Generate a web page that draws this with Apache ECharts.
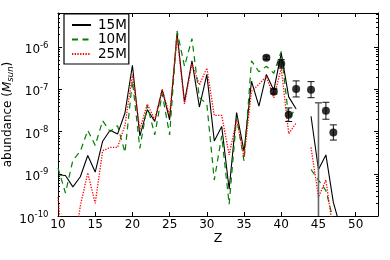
<!DOCTYPE html>
<html><head><meta charset="utf-8">
<script src="https://cdn.jsdelivr.net/npm/echarts@6/dist/echarts.min.js"></script>
<style>html,body{margin:0;padding:0;background:#fff}#c{width:390px;height:260px}</style>
</head><body><div id="c"></div>
<script>
// ---- data ----
const Z = [10,11,12,13,14,15,16,17,18,19,20,21,22,23,24,25,26,27,28,29,30,31,32,33,34,35,36,37,38,39,40,41,42,43,44,45,46,47,48];
const m15 = [9.5e-10,9.1e-10,4.9e-10,8.5e-10,2.7e-9,1.1e-9,5.9e-9,1.07e-8,8.7e-9,2.75e-8,3.7e-7,7.9e-9,3.3e-8,1.74e-8,9.8e-8,1.9e-8,2.14e-6,5.0e-8,4.7e-7,3.8e-8,2.24e-7,6.0e-9,1.32e-8,4.3e-10,2.8e-8,3.4e-9,1.55e-7,4.0e-8,2.24e-7,9.5e-8,7.2e-7,6.6e-8,3.4e-8,null,2.3e-8,1.26e-9,2.8e-9,2.1e-10,5e-11];
const m10 = [1.38e-9,3.5e-10,2.1e-9,3.4e-9,1.07e-8,4.7e-9,1.8e-8,1.0e-8,1.38e-8,3.2e-9,1.6e-7,4.0e-9,4.2e-8,8.3e-9,7.9e-8,8.3e-9,2.4e-6,3.5e-7,1.58e-6,6.3e-8,4.5e-8,7.1e-10,7.9e-9,1.9e-10,2.2e-8,2.0e-9,4.7e-7,2.6e-7,3.5e-7,2.4e-7,7.9e-7,2.1e-8,3.5e-8,null,1.26e-9,7.1e-10,4.0e-10,8e-11,null];
const m25 = [2.8e-10,3e-12,1e-11,1.74e-10,1.05e-9,2.0e-10,3.5e-9,4.2e-9,4.2e-9,1.4e-8,2.24e-7,1.12e-8,4.5e-8,1.9e-8,1.0e-7,2.4e-8,1.78e-6,4.5e-8,4.0e-7,1.26e-7,3.2e-7,2.4e-8,2.4e-8,2.8e-9,1.9e-8,2.5e-9,8.9e-8,1.32e-7,2.0e-7,6.3e-8,3.2e-7,8.9e-9,1.58e-8,null,4.2e-9,2.8e-10,7.1e-10,4e-11,null];
const obsZ = [38,39,40,41,42,44,46,47];
const obsVal = [5.6e-7,8.9e-8,4.0e-7,2.5e-8,1.02e-7,9.8e-8,3.1e-8,9.5e-9];
const obsErrDex = [0.04,0.06,0.1,0.16,0.19,0.19,0.2,0.18];
const limZ = [45];
const limTop = [4.8e-8];
const limBottom = [1e-11];
const xTickLabels = [10,15,20,25,30,35,40,45,50];
const yTickExp = [-10,-9,-8,-7,-6];

// ---- layout / style ----
const FONT = 'DejaVu Sans';
const xMin = 10, xMax = 53, yMin = 1e-10, yMax = 6.4e-6;

const pairs = arr => Z.map((z, i) => [z, arr[i] == null ? '-' : arr[i]]);
const obsData = obsZ.map((z, i) => [z, obsVal[i]]);
const errData = obsZ.map((z, i) => [z, obsVal[i] / Math.pow(10, obsErrDex[i]), obsVal[i] * Math.pow(10, obsErrDex[i])]);
const limData = limZ.map((z, i) => [z, limBottom[i], limTop[i]]);

// axis decoration: log minor ticks (2..9 x 10^n)
const minorTicks = [];
for (const e of yTickExp) for (let k = 2; k <= 9; k++) { const v = k * Math.pow(10, e); if (v < yMax) minorTicks.push([xMin, v]); }

function errRender(color, width) {
  return function (params, api) {
    const p1 = api.coord([api.value(0), api.value(1)]);
    const p2 = api.coord([api.value(0), api.value(2)]);
    const hw = 3.5, st = { stroke: color, lineWidth: width };
    return { type: 'group', children: [
      { type: 'line', shape: { x1: p1[0], y1: p1[1], x2: p2[0], y2: p2[1] }, style: st },
      { type: 'line', shape: { x1: p2[0] - hw, y1: p2[1], x2: p2[0] + hw, y2: p2[1] }, style: st },
      { type: 'line', shape: { x1: p1[0] - hw, y1: p1[1], x2: p1[0] + hw, y2: p1[1] }, style: st }
    ]};
  };
}

const yFmt = v => {
  const e = Math.log10(v), r = Math.round(e);
  if (Math.abs(e - r) > 1e-6 || yTickExp.indexOf(r) < 0) return '';
  return r === -10 ? '{b2|10}{s2|' + r + '}' : '{b|10}{s|' + r + '}';
};

const axisBase = {
  axisLine: { show: true, onZero: false, lineStyle: { color: '#000', width: 1 } },
  axisTick: { show: true, inside: true, length: 4, lineStyle: { color: '#000', width: 1 } },
  splitLine: { show: false }
};

const chart = echarts.init(document.getElementById('c'));
chart.setOption({
  animation: false,
  backgroundColor: '#fff',
  grid: { left: 58, right: 12, top: 13, bottom: 44, outerBoundsMode: 'none' },
  legend: {
    data: ['15M', '10M', '25M'], orient: 'vertical', left: 64, top: 14,
    padding: [4, 2, 3, 7], itemWidth: 19, itemHeight: 14, itemGap: 0.5,
    backgroundColor: '#fff', borderColor: '#000', borderWidth: 1.2, borderRadius: 0,
    itemStyle: { opacity: 0 },
    textStyle: { fontFamily: FONT, fontSize: 13.5, color: '#000', lineHeight: 14, padding: [0, 0, 0, 2] }
  },
  xAxis: [
    Object.assign({}, axisBase, {
      type: 'value', min: xMin, max: xMax, interval: 5, position: 'bottom',
      axisLabel: { show: true, margin: 3, color: '#000', fontFamily: FONT, fontSize: 12,
        formatter: v => xTickLabels.indexOf(v) >= 0 ? String(v) : '' },
      name: 'Z', nameLocation: 'middle', nameGap: 16, nameMoveOverlap: false,
      nameTextStyle: { fontFamily: FONT, fontSize: 12.5, color: '#000' }
    }),
    Object.assign({}, axisBase, {
      type: 'value', min: xMin, max: xMax, interval: 5, position: 'top',
      axisLabel: { show: false }
    })
  ],
  yAxis: [
    Object.assign({}, axisBase, {
      type: 'log', logBase: 10, min: yMin, max: yMax, position: 'left',
      axisLabel: { show: true, margin: 9.5, color: '#000', fontFamily: FONT, formatter: yFmt,
        rich: {
          b: { fontFamily: FONT, fontSize: 12, lineHeight: 12, padding: [6, 0, 0, 0], color: '#000' },
          s: { fontFamily: FONT, fontSize: 8.5, lineHeight: 6, verticalAlign: 'top', color: '#000' },
          b2: { fontFamily: FONT, fontSize: 12, lineHeight: 12, padding: [8, 0, 0, 0], color: '#000' },
          s2: { fontFamily: FONT, fontSize: 8.5, lineHeight: 5, verticalAlign: 'top', color: '#000' }
        } },
      name: '{n|abundance (}{i|M}{sub|sun}{n|)}', nameLocation: 'middle', nameGap: 43, nameRotate: 90,
      nameMoveOverlap: false,
      nameTextStyle: { fontFamily: FONT, fontSize: 12, color: '#000',
        rich: {
          n: { fontFamily: FONT, fontSize: 12, lineHeight: 14, color: '#000' },
          i: { fontFamily: FONT, fontSize: 12, lineHeight: 14, fontStyle: 'italic', color: '#000' },
          sub: { fontFamily: FONT, fontSize: 8.5, lineHeight: 8, padding: [6, 0, 0, 0], fontStyle: 'italic', color: '#000' }
        } }
    }),
    Object.assign({}, axisBase, {
      type: 'log', logBase: 10, min: yMin, max: yMax, position: 'right',
      axisLabel: { show: false }
    })
  ],
  series: [
    { name: '15M', type: 'line', data: pairs(m15), symbol: 'none', clip: true, z: 2,
      lineStyle: { color: '#000', width: 1.1, type: 'solid' }, itemStyle: { color: '#000' } },
    { name: '10M', type: 'line', data: pairs(m10), symbol: 'none', clip: true, z: 3,
      lineStyle: { color: '#008000', width: 1.2, type: [6, 4.5] }, itemStyle: { color: '#008000' } },
    { name: '25M', type: 'line', data: pairs(m25), symbol: 'none', clip: true, z: 4,
      lineStyle: { color: '#ff0000', width: 1.3, type: [1.3, 1.4] }, itemStyle: { color: '#ff0000' } },
    { name: 'lim', type: 'custom', data: limData, clip: true, z: 5, encode: { x: 0, y: [1, 2] },
      renderItem: errRender('#666', 1.6) },
    { name: 'err', type: 'custom', data: errData, clip: true, z: 6, encode: { x: 0, y: [1, 2] },
      renderItem: errRender('#111', 1) },
    { name: 'obs', type: 'scatter', data: obsData, symbol: 'circle', symbolSize: 8, z: 7,
      itemStyle: { color: '#000' } },
    { name: 'minor', type: 'custom', data: minorTicks, z: 8, silent: true,
      renderItem: (params, api) => {
        const y = Math.round(api.coord([xMin, api.value(1)])[1]) + 0.5;
        const cs = params.coordSys, st = { stroke: '#000', lineWidth: 1 };
        return { type: 'group', children: [
          { type: 'line', shape: { x1: cs.x, y1: y, x2: cs.x + 2, y2: y }, style: st },
          { type: 'line', shape: { x1: cs.x + cs.width - 2, y1: y, x2: cs.x + cs.width, y2: y }, style: st }
        ]};
      } }
  ]
});
</script></body></html>
